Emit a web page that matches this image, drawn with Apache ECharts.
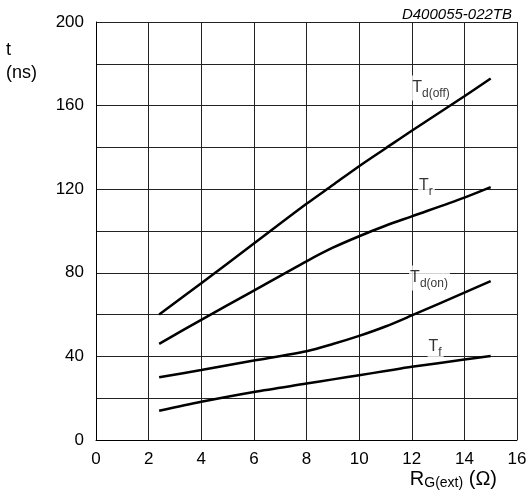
<!DOCTYPE html>
<html><head><meta charset="utf-8">
<script src="https://cdn.jsdelivr.net/npm/echarts@6/dist/echarts.min.js"></script>
<style>html,body{margin:0;padding:0;background:#fff}#c{width:529px;height:496px}</style>
</head><body><div id="c"></div>
<script>
var rg = [2.4, 4, 6, 8, 9, 10, 11, 12, 14, 15];
var tdOff = [60, 75, 94, 113, 122, 131, 139.5, 148, 164.5, 173];
var tr = [46, 57.5, 71.5, 85.5, 92, 97.5, 102.5, 107, 116, 121];
var tdOn = [30, 33.5, 38, 42.5, 45.9, 49.8, 54.3, 59.6, 70.5, 76];
var tf = [14, 18.3, 23, 27, 29, 31, 33, 35, 38.5, 40.2];
var yTicks = [0, 40, 80, 120, 160, 200];
var xTicks = [0, 2, 4, 6, 8, 10, 12, 14, 16];
var labels = [
  {name: 'd(off)', x: 11.98, y: 168.4},
  {name: 'r', x: 12.24, y: 121.5},
  {name: 'd(on)', x: 11.9, y: 77.5},
  {name: 'f', x: 12.6, y: 44.5}
];
function pts(ys){ return rg.map(function(x,i){ return [x, ys[i]]; }); }
var font = 'Liberation Sans, Arial, sans-serif';
var chart = echarts.init(document.getElementById('c'), null, {renderer: 'canvas'});
function lineSeries(d){
  return {type: 'line', data: pts(d), smooth: 0.3, symbol: 'none',
    lineStyle: {color: '#000', width: 2.5}, z: 3, silent: true};
}
chart.setOption({
  animation: false,
  grid: {left: 96, right: 12, top: 22, bottom: 56, containLabel: false, outerBoundsMode: 'none'},
  title: {text: 'D400055-022TB', right: 12, top: 2,
    textStyle: {fontFamily: font, fontSize: 15, fontStyle: 'italic', fontWeight: 'normal', color: '#000'}},
  xAxis: {type: 'value', min: 0, max: 16, interval: 2,
    axisLine: {show: true, lineStyle: {color: '#000', width: 1}},
    axisTick: {show: false},
    axisLabel: {fontFamily: font, fontSize: 17, color: '#000', margin: 11,
      formatter: function(v){ return xTicks.indexOf(v) >= 0 ? String(v) : ''; }},
    splitLine: {show: true, lineStyle: {color: '#222', width: 1}}
  },
  yAxis: {type: 'value', min: 0, max: 200, interval: 20,
    axisLine: {show: true, lineStyle: {color: '#000', width: 1}},
    axisTick: {show: false},
    axisLabel: {fontFamily: font, fontSize: 17, color: '#000', margin: 12,
      formatter: function(v){ return yTicks.indexOf(v) >= 0 ? String(v) : ''; }},
    splitLine: {show: true, lineStyle: {color: '#222', width: 1}}
  },
  graphic: [
    {type: 'text', left: 6, top: 39,
      style: {text: 't\n(ns)', fontFamily: font, fontSize: 18, fill: '#000', align: 'center', lineHeight: 23, x: 19}},
    {type: 'text', right: 32, top: 469,
      style: {text: '{r|R}{s|G(ext)}{r| (Ω)}',
        rich: {r: {fontFamily: font, fontSize: 20, fill: '#000', color: '#000'},
               s: {fontFamily: font, fontSize: 14, fill: '#000', color: '#000', verticalAlign: 'bottom', padding: [9, 0, 0, 0]}}}}
  ],
  series: [
    lineSeries(tdOff), lineSeries(tr), lineSeries(tdOn), lineSeries(tf),
    {type: 'scatter', symbolSize: 0, z: 5, silent: true,
      data: labels.map(function(l){ return {value: [l.x, l.y], name: l.name}; }),
      label: {show: true, position: [0, 0], align: 'left', verticalAlign: 'middle',
        formatter: function(p){ return '{t|T}{s|' + p.name + '}'; },
        backgroundColor: '#fff', padding: [1, 2, 1, 1],
        rich: {t: {fontFamily: font, fontSize: 16, color: '#000'},
               s: {fontFamily: font, fontSize: 12, color: '#000', verticalAlign: 'bottom', padding: [11, 0, 0, 0]}}}
    }
  ]
});
</script></body></html>
